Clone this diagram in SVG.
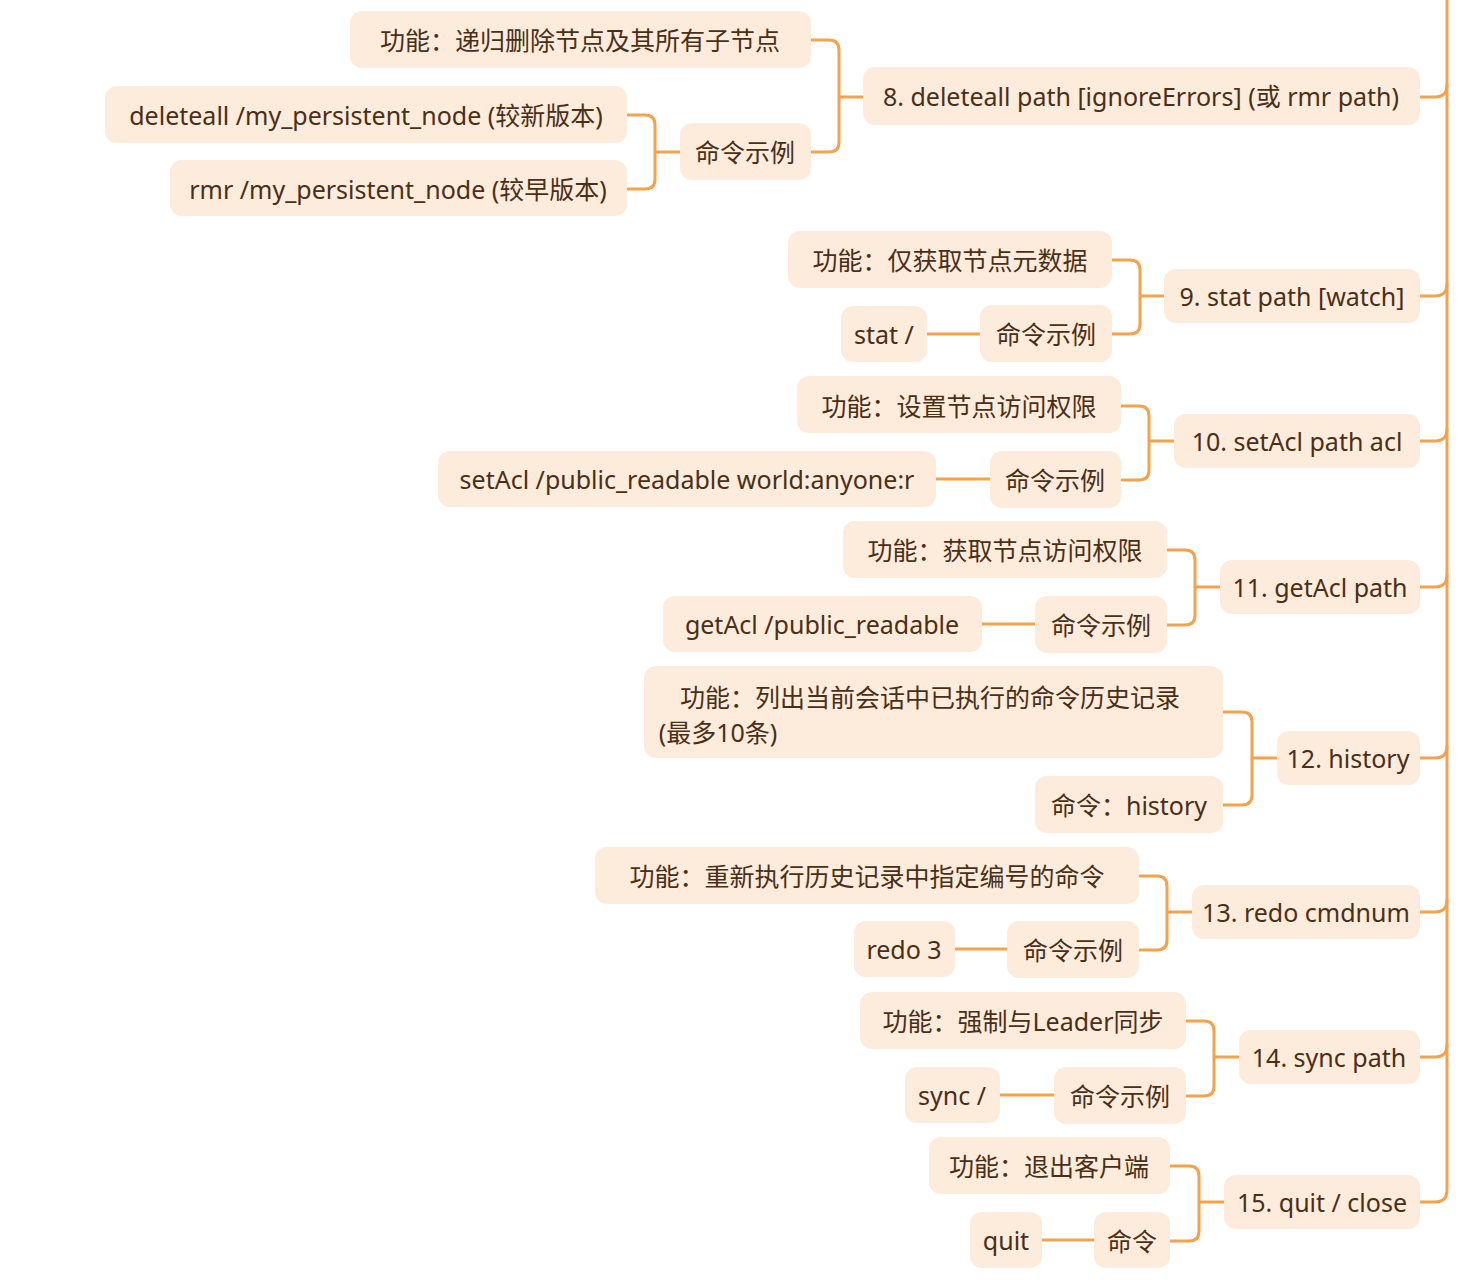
<svg xmlns="http://www.w3.org/2000/svg" width="1465" height="1280" viewBox="0 0 1465 1280">
<style>
.n rect{fill:#fdebdc}
.n text{font-family:"Noto Sans","Noto Sans CJK SC",sans-serif;font-size:25px;fill:#4a2f17;text-anchor:middle;dominant-baseline:central}
#c path{fill:none;stroke:#f4a24b;stroke-width:3;stroke-linecap:round}
</style>
<rect width="1465" height="1280" fill="#fff"/>
<g id="c">
<path d="M1447 0 V1190 Q1447 1202 1435 1202 H1420"/>
<path d="M1447 85 Q1447 97 1435 97 H1420"/>
<path d="M1447 284 Q1447 296 1435 296 H1420"/>
<path d="M1447 429 Q1447 441 1435 441 H1420"/>
<path d="M1447 575 Q1447 587 1435 587 H1420"/>
<path d="M1447 746 Q1447 758 1435 758 H1420"/>
<path d="M1447 900 Q1447 912 1435 912 H1420"/>
<path d="M1447 1045 Q1447 1057 1435 1057 H1420"/>
<!-- 8 -->
<path d="M863 97 H839 M839 97 V50 Q839 40 829 40 H811 M839 97 V142 Q839 152 829 152 H811"/>
<path d="M680 152 H655 M655 152 V125 Q655 115 645 115 H627 M655 152 V179 Q655 189 645 189 H627"/>
<!-- 9 -->
<path d="M1164 296 H1140 M1140 296 V270 Q1140 260 1130 260 H1112 M1140 296 V324 Q1140 334 1130 334 H1112 M980 334 H927"/>
<!-- 10 -->
<path d="M1174 441 H1149 M1149 441 V416 Q1149 406 1139 406 H1121 M1149 441 V470 Q1149 480 1139 480 H1121 M990 479 H936"/>
<!-- 11 -->
<path d="M1220 587 H1195 M1195 587 V560 Q1195 550 1185 550 H1167 M1195 587 V615 Q1195 625 1185 625 H1167 M1035 624 H982"/>
<!-- 12 -->
<path d="M1277 758 H1252 M1252 758 V722 Q1252 712 1242 712 H1223 M1252 758 V795 Q1252 805 1242 805 H1223"/>
<!-- 13 -->
<path d="M1192 912 H1167 M1167 912 V886 Q1167 876 1157 876 H1139 M1167 912 V940 Q1167 950 1157 950 H1139 M1007 949 H955"/>
<!-- 14 -->
<path d="M1239 1057 H1214 M1214 1057 V1031 Q1214 1021 1204 1021 H1186 M1214 1057 V1086 Q1214 1096 1204 1096 H1186 M1054 1095 H1000"/>
<!-- 15 -->
<path d="M1224 1202 H1199 M1199 1202 V1176 Q1199 1166 1189 1166 H1170 M1199 1202 V1231 Q1199 1241 1189 1241 H1170 M1094 1240 H1042"/>
</g>
<g id="n8" class="n"><rect x="863" y="67" width="557" height="58" rx="12"/><text x="1141" y="96">8. deleteall path [ignoreErrors] (或 rmr path)</text></g>
<g id="n8a" class="n"><rect x="350" y="11" width="461" height="57" rx="12"/><text x="580" y="40">功能：递归删除节点及其所有子节点</text></g>
<g id="n8b" class="n"><rect x="680" y="123" width="131" height="57" rx="12"/><text x="745" y="152">命令示例</text></g>
<g id="n8b1" class="n"><rect x="105" y="86" width="522" height="57" rx="12"/><text x="366" y="115">deleteall /my_persistent_node (较新版本)</text></g>
<g id="n8b2" class="n"><rect x="170" y="160" width="457" height="56" rx="12"/><text x="398" y="189">rmr /my_persistent_node (较早版本)</text></g>
<g id="n9" class="n"><rect x="1164" y="269" width="256" height="54" rx="12"/><text x="1292" y="296">9. stat path [watch]</text></g>
<g id="n9a" class="n"><rect x="788" y="231" width="324" height="57" rx="12"/><text x="950" y="260">功能：仅获取节点元数据</text></g>
<g id="n9b" class="n"><rect x="980" y="305" width="132" height="57" rx="12"/><text x="1046" y="334">命令示例</text></g>
<g id="n9b1" class="n"><rect x="841" y="306" width="86" height="56" rx="12"/><text x="884" y="334">stat /</text></g>
<g id="n10" class="n"><rect x="1174" y="414" width="246" height="54" rx="12"/><text x="1297" y="441">10. setAcl path acl</text></g>
<g id="n10a" class="n"><rect x="797" y="376" width="324" height="57" rx="12"/><text x="959" y="406">功能：设置节点访问权限</text></g>
<g id="n10b" class="n"><rect x="990" y="451" width="131" height="57" rx="12"/><text x="1055" y="480">命令示例</text></g>
<g id="n10b1" class="n"><rect x="438" y="451" width="498" height="56" rx="12"/><text x="687" y="479">setAcl /public_readable world:anyone:r</text></g>
<g id="n11" class="n"><rect x="1220" y="560" width="200" height="54" rx="12"/><text x="1320" y="587">11. getAcl path</text></g>
<g id="n11a" class="n"><rect x="843" y="521" width="324" height="57" rx="12"/><text x="1005" y="550">功能：获取节点访问权限</text></g>
<g id="n11b" class="n"><rect x="1035" y="596" width="132" height="57" rx="12"/><text x="1101" y="625">命令示例</text></g>
<g id="n11b1" class="n"><rect x="663" y="596" width="319" height="56" rx="12"/><text x="822" y="624">getAcl /public_readable</text></g>
<g id="n12" class="n"><rect x="1277" y="731" width="143" height="54" rx="12"/><text x="1348" y="758">12. history</text></g>
<g id="n12a" class="n"><rect x="644" y="666" width="579" height="92" rx="12"/><text x="930" y="697">功能：列出当前会话中已执行的命令历史记录</text><text x="718" y="732">(最多10条)</text></g>
<g id="n12b" class="n"><rect x="1035" y="776" width="188" height="57" rx="12"/><text x="1129" y="805">命令：history</text></g>
<g id="n13" class="n"><rect x="1192" y="885" width="228" height="54" rx="12"/><text x="1306" y="912">13. redo cmdnum</text></g>
<g id="n13a" class="n"><rect x="595" y="847" width="544" height="57" rx="12"/><text x="867" y="876">功能：重新执行历史记录中指定编号的命令</text></g>
<g id="n13b" class="n"><rect x="1007" y="921" width="132" height="57" rx="12"/><text x="1073" y="950">命令示例</text></g>
<g id="n13b1" class="n"><rect x="854" y="921" width="101" height="56" rx="12"/><text x="904" y="949">redo 3</text></g>
<g id="n14" class="n"><rect x="1239" y="1030" width="181" height="54" rx="12"/><text x="1329" y="1057">14. sync path</text></g>
<g id="n14a" class="n"><rect x="860" y="992" width="326" height="57" rx="12"/><text x="1023" y="1021">功能：强制与Leader同步</text></g>
<g id="n14b" class="n"><rect x="1054" y="1067" width="132" height="57" rx="12"/><text x="1120" y="1096">命令示例</text></g>
<g id="n14b1" class="n"><rect x="905" y="1067" width="95" height="56" rx="12"/><text x="952" y="1095">sync /</text></g>
<g id="n15" class="n"><rect x="1224" y="1175" width="196" height="54" rx="12"/><text x="1322" y="1202">15. quit / close</text></g>
<g id="n15a" class="n"><rect x="929" y="1137" width="241" height="57" rx="12"/><text x="1049" y="1166">功能：退出客户端</text></g>
<g id="n15b" class="n"><rect x="1094" y="1212" width="76" height="56" rx="12"/><text x="1132" y="1241">命令</text></g>
<g id="n15b1" class="n"><rect x="970" y="1212" width="72" height="56" rx="12"/><text x="1006" y="1240">quit</text></g>
</svg>
